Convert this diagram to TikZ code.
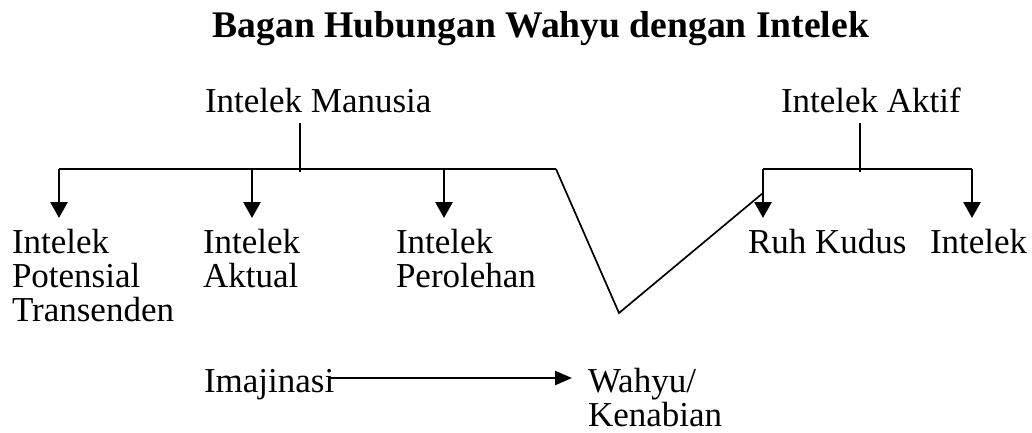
\documentclass[tikz,border=0pt]{standalone}
\usepackage{fontspec}
\setmainfont{Liberation Serif}
\usetikzlibrary{arrows.meta}
\begin{document}
\begin{tikzpicture}[x=1bp,y=-1bp,
  lbl/.style={inner sep=0pt, outer sep=0pt, anchor=base west, align=left,
    font=\fontsize{35bp}{34bp}\selectfont},
  ttl/.style={inner sep=0pt, outer sep=0pt, anchor=base,
    font=\fontsize{37.6bp}{40bp}\selectfont\bfseries},
  thick line/.style={line width=2.8bp},
  thin line/.style={line width=1.7bp},
  arr/.style={line width=2.8bp, -{Triangle[width=17bp,length=16bp]}},
  harr/.style={line width=2.4bp, -{Triangle[width=14bp,length=17bp]}}]
\useasboundingbox (0,0) rectangle (1032,432);
% title
\node[ttl] (title) at (541,37) {Bagan Hubungan Wahyu dengan Intelek};
% top labels
\node[lbl] (im) at (205,112) {Intelek Manusia};
\node[lbl] (ia) at (781,112) {Intelek Aktif};
% lower labels (base anchor = baseline of the last line)
\node[lbl] (ipt) at (12,321) {Intelek\\Potensial\\Transenden};
\node[lbl] (iak) at (203,287) {Intelek\\Aktual};
\node[lbl] (ipe) at (396,287) {Intelek\\Perolehan};
\node[lbl] (rk) at (748,253) {Ruh Kudus};
\node[lbl] (in) at (930,253) {Intelek};
\node[lbl] (ima) at (204,392) {Imajinasi};
\node[lbl] (wk) at (588,426) {Wahyu/\\Kenabian};
% coordinates
\coordinate (imS) at (300,123);
\coordinate (imH) at (300,172);
\coordinate (h1) at (59,169);
\coordinate (h2) at (252,169);
\coordinate (h3) at (444,169);
\coordinate (hE) at (556,169);
\coordinate (vB) at (619,313);
\coordinate (vE) at (763,193);
\coordinate (t1) at (59,218);
\coordinate (t2) at (252,218);
\coordinate (t3) at (444,218);
\coordinate (iaS) at (860,123);
\coordinate (iaH) at (860,172);
\coordinate (k1) at (763,169);
\coordinate (k2) at (972,169);
\coordinate (u1) at (763,218);
\coordinate (u2) at (972,218);
\coordinate (aS) at (330,378);
\coordinate (aT) at (572,378);
% left tree
\draw[thin line] (imS) -- (imH);
\draw[thick line] (h1) -- (hE);
\draw[thin line, line join=miter] (hE) -- (vB) -- (vE);
\draw[arr] (h1) -- (t1);
\draw[arr] (h2) -- (t2);
\draw[arr] (h3) -- (t3);
% right tree
\draw[thin line] (iaS) -- (iaH);
\draw[thick line] (k1) -- (k2);
\draw[arr] (k1) -- (u1);
\draw[arr] (k2) -- (u2);
% bottom arrow
\draw[harr] (aS) -- (aT);
\end{tikzpicture}
\end{document}
